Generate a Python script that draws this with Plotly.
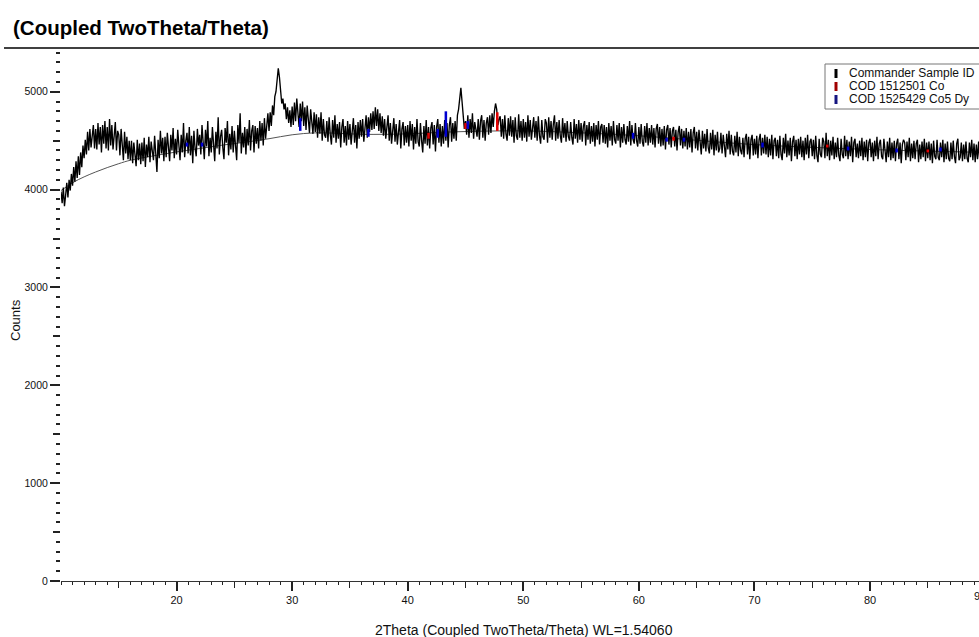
import plotly.graph_objects as go

# ---------------- data ----------------
two_theta_start = 10.0
two_theta_step = 0.1

counts_10_20 = [
    3980, 3860, 4020, 3830, 3940, 4070, 3920, 4100, 3990, 4160,
    4040, 4230, 4080, 4290, 4120, 4340, 4150, 4380, 4230, 4450,
    4320, 4510, 4360, 4590, 4400, 4620, 4430, 4560, 4660, 4420,
    4620, 4410, 4680, 4460, 4640, 4380, 4660, 4470, 4700, 4420,
    4640, 4400, 4720, 4450, 4660, 4410, 4610, 4690, 4400, 4600,
    4560, 4350, 4620, 4400, 4300, 4590, 4370, 4540, 4310, 4500,
    4300, 4500, 4270, 4480, 4350, 4240, 4510, 4300, 4470, 4260,
    4480, 4290, 4530, 4230, 4460, 4330, 4540, 4280, 4490, 4350,
    4300, 4550, 4360, 4180, 4510, 4320, 4600, 4370, 4530, 4290,
    4540, 4330, 4580, 4380, 4290, 4560, 4400, 4630, 4320, 4520,
]
counts_20_30 = [
    4360, 4610, 4420, 4300, 4560, 4380, 4680, 4330, 4500, 4580,
    4370, 4640, 4350, 4550, 4270, 4600, 4420, 4340, 4620, 4450,
    4560, 4360, 4660, 4410, 4310, 4610, 4440, 4700, 4340, 4530,
    4380, 4640, 4460, 4290, 4590, 4420, 4740, 4360, 4540, 4610,
    4430, 4310, 4630, 4480, 4700, 4350, 4570, 4410, 4650, 4380,
    4600, 4400, 4300, 4660, 4480, 4780, 4370, 4580, 4430, 4640,
    4360, 4620, 4450, 4710, 4400, 4600, 4660, 4380, 4650, 4470,
    4630, 4420, 4700, 4500, 4680, 4450, 4730, 4520, 4700, 4780,
    4600, 4790, 4650, 4860, 4760, 4950, 5000, 5120, 5240, 5150,
    5020, 4880, 4930, 4820, 4880, 4720, 4840, 4680, 4810, 4640,
]
counts_30_40 = [
    4850, 4660, 4890, 4700, 4930, 4720, 4640, 4880, 4700, 4900,
    4650, 4840, 4610, 4860, 4680, 4580, 4820, 4640, 4570, 4790,
    4590, 4770, 4530, 4740, 4570, 4790, 4500, 4720, 4560, 4530,
    4700, 4490, 4740, 4560, 4460, 4710, 4530, 4760, 4480, 4670,
    4520, 4690, 4430, 4640, 4720, 4480, 4650, 4450, 4700, 4510,
    4670, 4460, 4630, 4730, 4480, 4660, 4420, 4690, 4520, 4710,
    4540, 4720, 4490, 4680, 4760, 4530, 4740, 4590, 4780, 4610,
    4800, 4620, 4840, 4650, 4820, 4600, 4780, 4580, 4750, 4550,
    4720, 4520, 4690, 4760, 4500, 4680, 4470, 4650, 4730, 4490,
    4670, 4460, 4640, 4710, 4420, 4620, 4690, 4450, 4650, 4480,
]
counts_40_50 = [
    4660, 4440, 4700, 4500, 4670, 4410, 4640, 4470, 4720, 4490,
    4440, 4680, 4500, 4380, 4650, 4470, 4710, 4450, 4640, 4420,
    4630, 4690, 4460, 4660, 4390, 4640, 4720, 4480, 4670, 4440,
    4650, 4470, 4710, 4500, 4680, 4430, 4660, 4740, 4490, 4680,
    4520, 4700, 4500, 4760, 4820, 4960, 5040, 4900, 4760, 4620,
    4700, 4560, 4760, 4530, 4720, 4580, 4780, 4520, 4690, 4600,
    4540, 4720, 4510, 4700, 4760, 4530, 4710, 4500, 4680, 4740,
    4560, 4760, 4580, 4780, 4640, 4800, 4880, 4820, 4660, 4720,
    4750, 4540, 4720, 4520, 4760, 4570, 4500, 4730, 4550, 4750,
    4540, 4710, 4480, 4740, 4550, 4510, 4770, 4530, 4700, 4500,
]
counts_50_60 = [
    4720, 4530, 4690, 4490, 4760, 4540, 4710, 4510, 4680, 4740,
    4530, 4700, 4500, 4750, 4550, 4470, 4710, 4540, 4510, 4720,
    4680, 4480, 4740, 4530, 4700, 4510, 4670, 4760, 4500, 4690,
    4520, 4710, 4550, 4480, 4730, 4530, 4680, 4490, 4700, 4540,
    4500, 4690, 4530, 4460, 4720, 4520, 4670, 4480, 4710, 4510,
    4680, 4490, 4650, 4700, 4450, 4660, 4510, 4690, 4470, 4650,
    4490, 4680, 4440, 4660, 4510, 4700, 4460, 4640, 4670, 4480,
    4660, 4470, 4640, 4430, 4680, 4500, 4650, 4450, 4700, 4510,
    4470, 4660, 4500, 4680, 4430, 4640, 4480, 4670, 4510, 4460,
    4650, 4490, 4700, 4450, 4660, 4510, 4470, 4680, 4500, 4440,
]
counts_60_70 = [
    4640, 4470, 4670, 4490, 4440, 4650, 4480, 4680, 4450, 4630,
    4480, 4660, 4460, 4630, 4430, 4620, 4670, 4470, 4640, 4440,
    4620, 4450, 4650, 4410, 4610, 4660, 4460, 4630, 4430, 4600,
    4640, 4440, 4610, 4400, 4590, 4650, 4450, 4620, 4420, 4600,
    4440, 4630, 4410, 4590, 4430, 4620, 4380, 4580, 4640, 4420,
    4590, 4400, 4610, 4440, 4360, 4600, 4420, 4570, 4390, 4620,
    4430, 4370, 4580, 4410, 4610, 4350, 4560, 4400, 4590, 4380,
    4420, 4580, 4370, 4560, 4400, 4330, 4570, 4410, 4600, 4360,
    4560, 4390, 4350, 4550, 4380, 4590, 4340, 4540, 4400, 4360,
    4530, 4330, 4520, 4570, 4360, 4540, 4310, 4510, 4560, 4350,
]
counts_70_80 = [
    4520, 4360, 4550, 4320, 4510, 4570, 4350, 4530, 4370, 4560,
    4360, 4540, 4330, 4520, 4350, 4560, 4310, 4500, 4530, 4340,
    4510, 4320, 4550, 4360, 4300, 4530, 4370, 4570, 4330, 4500,
    4350, 4530, 4290, 4490, 4550, 4340, 4510, 4310, 4520, 4360,
    4540, 4330, 4500, 4300, 4530, 4360, 4560, 4320, 4490, 4520,
    4340, 4510, 4310, 4550, 4350, 4280, 4520, 4360, 4330, 4530,
    4490, 4320, 4580, 4340, 4510, 4300, 4500, 4350, 4540, 4310,
    4480, 4330, 4530, 4350, 4290, 4520, 4360, 4320, 4550, 4340,
    4510, 4310, 4490, 4340, 4540, 4280, 4480, 4520, 4330, 4470,
    4320, 4500, 4340, 4530, 4300, 4490, 4330, 4510, 4290, 4480,
]
counts_80_90 = [
    4520, 4330, 4480, 4290, 4500, 4340, 4540, 4310, 4470, 4510,
    4340, 4310, 4520, 4350, 4280, 4490, 4330, 4530, 4300, 4480,
    4320, 4500, 4290, 4470, 4520, 4310, 4480, 4270, 4460, 4510,
    4480, 4300, 4490, 4330, 4530, 4290, 4470, 4320, 4500, 4310,
    4470, 4510, 4280, 4460, 4310, 4490, 4330, 4520, 4290, 4480,
    4320, 4490, 4300, 4470, 4270, 4500, 4340, 4310, 4510, 4330,
    4300, 4480, 4330, 4510, 4280, 4470, 4310, 4490, 4320, 4290,
    4480, 4310, 4500, 4340, 4270, 4470, 4520, 4300, 4330, 4480,
    4290, 4460, 4310, 4490, 4320, 4280, 4480, 4330, 4510, 4300,
    4470, 4280, 4460, 4310, 4490, 4290, 4450, 4260, 4470, 4320,
    4400,
]

background_theta = [10, 11, 12, 13, 14, 15, 16, 18, 20, 22, 24, 26, 28, 30,
                    32, 34, 36, 38, 40, 44, 50, 55, 60, 70, 80, 90]
background_counts = [3990, 4070, 4130, 4180, 4225, 4265, 4300, 4345, 4385, 4420,
                     4455, 4485, 4520, 4560, 4580, 4575, 4565, 4565, 4570, 4590,
                     4600, 4580, 4550, 4460, 4410, 4380]

co_theta = [41.8, 45.0, 47.75, 63.0, 76.3, 85.0]
co_low = [4520, 4620, 4600, 4500, 4430, 4380]
co_high = [4580, 4680, 4790, 4540, 4460, 4410]

co5dy_theta = [20.9, 22.2, 30.7, 36.6, 42.6, 43.3, 45.2, 59.5, 62.4, 63.9,
               70.7, 78.1, 82.3, 86.1]
co5dy_low = [4440, 4440, 4600, 4540, 4530, 4540, 4620, 4520, 4490, 4490,
             4430, 4400, 4380, 4390]
co5dy_high = [4480, 4480, 4730, 4620, 4620, 4800, 4700, 4580, 4530, 4530,
              4480, 4440, 4420, 4430]

legend_names = ["Commander Sample ID", "COD 1512501 Co", "COD 1525429 Co5 Dy"]
legend_colors = ["#000000", "#a00000", "#151580"]

x_major_ticks = [20, 30, 40, 50, 60, 70, 80]
x_mid_ticks = [15, 25, 35, 45, 55, 65, 75, 85]
y_major_ticks = [0, 1000, 2000, 3000, 4000, 5000]
y_mid_ticks = [500, 1500, 2500, 3500, 4500]

# ---------------- figure ----------------
counts = (counts_10_20 + counts_20_30 + counts_30_40 + counts_40_50 +
          counts_50_60 + counts_60_70 + counts_70_80 + counts_80_90)
two_theta = [round(two_theta_start + i * two_theta_step, 2) for i in range(len(counts))]

W, H = 979, 637
ML, MR, MT, MB = 61, 0, 48, 56
PW, PH = W - ML - MR, H - MT - MB
X_RANGE = [10.0, 89.43]
Y_RANGE = [0, 5447]
FONT = "Liberation Sans, Arial, sans-serif"


def px(x):
    return (x - ML) / PW


def py(y):
    return (H - MB - y) / PH


fig = go.Figure()

fig.add_trace(go.Scatter(x=background_theta, y=background_counts, mode="lines",
                         line=dict(color="#555555", width=1, shape="spline"),
                         showlegend=False, hoverinfo="skip"))
fig.add_trace(go.Scatter(x=two_theta, y=counts, mode="lines",
                         line=dict(color="#000000", width=1.35),
                         name=legend_names[0], showlegend=False))

fig.add_trace(go.Bar(x=co_theta, y=[h - l for h, l in zip(co_high, co_low)], base=co_low,
                     width=0.22, marker=dict(color="#e00000", line=dict(width=0)),
                     name=legend_names[1], showlegend=False, xaxis="x2", yaxis="y2"))
fig.add_trace(go.Bar(x=co5dy_theta, y=[h - l for h, l in zip(co5dy_high, co5dy_low)],
                     base=co5dy_low, width=0.22,
                     marker=dict(color="#0000d0", line=dict(width=0)),
                     name=legend_names[2], showlegend=False, xaxis="x2", yaxis="y2"))

tick_font = dict(family=FONT, size=11, color="#111111")
fig.update_layout(
    width=W, height=H,
    margin=dict(l=ML, r=MR, t=MT, b=MB, pad=0),
    paper_bgcolor="white", plot_bgcolor="white",
    showlegend=False, barmode="overlay",
    font=dict(family=FONT, color="#111111"),
    title=dict(text="<b>(Coupled TwoTheta/Theta)</b>", xref="container", yref="container",
               x=13 / W, xanchor="left", y=1 - 28 / H, yanchor="middle",
               font=dict(family=FONT, size=20.5, color="#000000")),
    xaxis=dict(range=X_RANGE, tickmode="array", tickvals=x_major_ticks,
               ticks="outside", ticklen=9, tickwidth=1.6, tickcolor="#222222",
               showline=True, linecolor="#333333", linewidth=1.4,
               showgrid=False, zeroline=False, tickfont=tick_font,
               minor=dict(tickmode="linear", tick0=0, dtick=1, ticks="outside",
                          ticklen=3, tickwidth=1.3, tickcolor="#222222", showgrid=False)),
    xaxis2=dict(range=X_RANGE, overlaying="x", side="bottom", anchor="y2",
                tickmode="array", tickvals=x_mid_ticks, ticks="outside", ticklen=6,
                tickwidth=1.4, tickcolor="#222222", showticklabels=False,
                showline=False, showgrid=False, zeroline=False),
    yaxis=dict(range=Y_RANGE, tickmode="array", tickvals=y_major_ticks,
               ticks="outside", ticklen=10, tickwidth=1.6, tickcolor="#222222",
               showline=False, showgrid=False, zeroline=False,
               tickfont=dict(family=FONT, size=10.5, color="#111111"),
               minor=dict(tickmode="linear", tick0=0, dtick=100, ticks="outside",
                          ticklen=4, tickwidth=2, tickcolor="#222222", showgrid=False)),
    yaxis2=dict(range=Y_RANGE, overlaying="y", side="left", anchor="x2",
                tickmode="array", tickvals=y_mid_ticks, ticks="outside", ticklen=7,
                tickwidth=1.6, tickcolor="#222222", showticklabels=False,
                showline=False, showgrid=False, zeroline=False),
)

# title underline
fig.add_shape(type="line", xref="paper", yref="paper", x0=px(4), x1=px(W), y0=py(48), y1=py(48),
              line=dict(color="#000000", width=1.6))

# axis titles
fig.add_annotation(text="2Theta (Coupled TwoTheta/Theta) WL=1.54060", xref="paper", yref="paper",
                   x=px(524), y=py(630), showarrow=False, xanchor="center", yanchor="middle",
                   font=dict(family=FONT, size=14, color="#111111"))
fig.add_annotation(text="Counts", xref="paper", yref="paper", x=px(15), y=py(320),
                   textangle=-90, showarrow=False, xanchor="center", yanchor="middle",
                   font=dict(family=FONT, size=13, color="#111111"))
# 90 label (cut by the right edge, as in the reference)
fig.add_annotation(text="90", xref="paper", yref="paper", x=px(972), y=py(596),
                   showarrow=False, xanchor="left", yanchor="middle", font=tick_font)

# legend box
fig.add_shape(type="rect", xref="paper", yref="paper", x0=px(825), x1=px(W + 5),
              y0=py(64), y1=py(109), line=dict(color="#777777", width=1),
              fillcolor="white", layer="above")
for i, (name, col) in enumerate(zip(legend_names, legend_colors)):
    yc = 73 + i * 13
    fig.add_shape(type="line", xref="paper", yref="paper", x0=px(836), x1=px(836),
                  y0=py(yc - 4), y1=py(yc + 5), line=dict(color=col, width=3), layer="above")
    fig.add_annotation(text=name, xref="paper", yref="paper", x=px(847), y=py(yc),
                       showarrow=False, xanchor="left", yanchor="middle",
                       font=dict(family=FONT, size=12, color="#111111"))

fig.write_html("out.html", config={"displayModeBar": False},
               post_script="document.body.style.margin='0';")
